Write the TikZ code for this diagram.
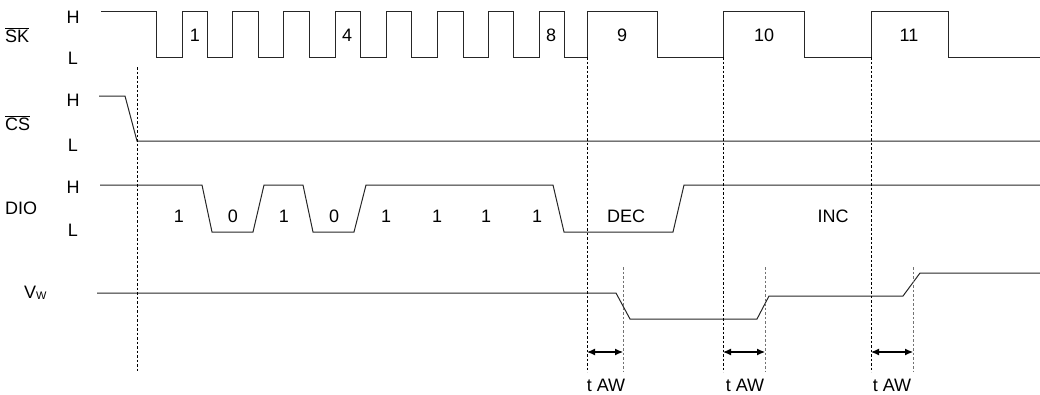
\documentclass[tikz,border=0pt]{standalone}
\usepackage{fontspec}
\setmainfont{Liberation Sans}
\usetikzlibrary{positioning,arrows.meta}

\begin{document}
\begin{tikzpicture}[x=1pt,y=-1pt,
	every node/.style={font=\fontsize{18}{20}\selectfont,inner sep=0pt},
	sig/.style={line width=1pt,black!85},
	guide/.style={line width=0.8pt,dash pattern=on 2.5pt off 2pt},
	guidegray/.style={guide,black!55},
	span/.style={line width=1.1pt,{Latex[length=8pt,width=7pt]}-{Latex[length=8pt,width=7pt]}}]
\useasboundingbox (0,0) rectangle (1040,394);

% signal names
\node[anchor=west] (sk) at (5,35) {\(\overline{\mbox{SK}}\)};
\node[anchor=west] (cs) at (5,123) {\(\overline{\mbox{CS}}\)};
\node[anchor=west] (dio) at (5,208) {DIO};
\node[anchor=west] (vw) at (24,293) {V\raisebox{-0.5pt}{\fontsize{11}{12}\selectfont W}};

% levels
\foreach[count=\c] \y/\l in {17/H,58/L,100/H,145/L,187/H,230/L}{
	\node (lv\c) at (73,\y) {\l};
}

% SK clock
\draw[sig] (101,11) -- (156,11) -- (156,57)
	\foreach \r/\f in {182/207,232/258,283/309,335/360,386/411,437/463,488/513,539/564,587/657,723/804,871/948}{
		-- (\r,57) -- (\r,11) -- (\f,11) -- (\f,57)
	} -- (1040,57);
\foreach[count=\c] \x/\t in {195/1,347/4,551/8,622/9,764/10,909/11}{
	\node (clk\c) at (\x,35) {\t};
}

% CS
\draw[sig] (99,96) -- (125,96) -- (137,141) -- (1040,141);

% DIO
\draw[sig] (100,185) -- (202,185) -- (212,232) -- (253,232) -- (264,185) -- (303,185)
	-- (313,232) -- (354,232) -- (366,185) -- (553,185) -- (564,232) -- (673,232)
	-- (684,185) -- (1040,185);
\foreach[count=\c] \x/\t in {179/1,233/0,284/1,334/0,386/1,437/1,486/1,537/1,626/DEC,833/INC}{
	\node (bit\c) at (\x,216) {\t};
}

% Vw
\draw[sig] (97,293) -- (616,293) -- (630,319) -- (757,319) -- (769,296) -- (903,296)
	-- (920,273) -- (1040,273);

% guides
\coordinate (cs0) at (137,67);
\draw[guide] (cs0) -- (137,372);
\foreach[count=\c] \a/\b/\m in {587/623/606,723/765/745,871/913/892}{
	\coordinate (s\c) at (\a,57);
	\coordinate (e\c) at (\b,267);
	\draw[guide] (s\c) -- (\a,372);
	\draw[guidegray] (e\c) -- (\b,372);
	\coordinate (sa\c) at (\a,352);
	\coordinate (ea\c) at (\b,352);
	\draw[span] (sa\c) -- (ea\c);
	\node (taw\c) at (\m,385) {t AW};
}

\end{tikzpicture}
\end{document}
